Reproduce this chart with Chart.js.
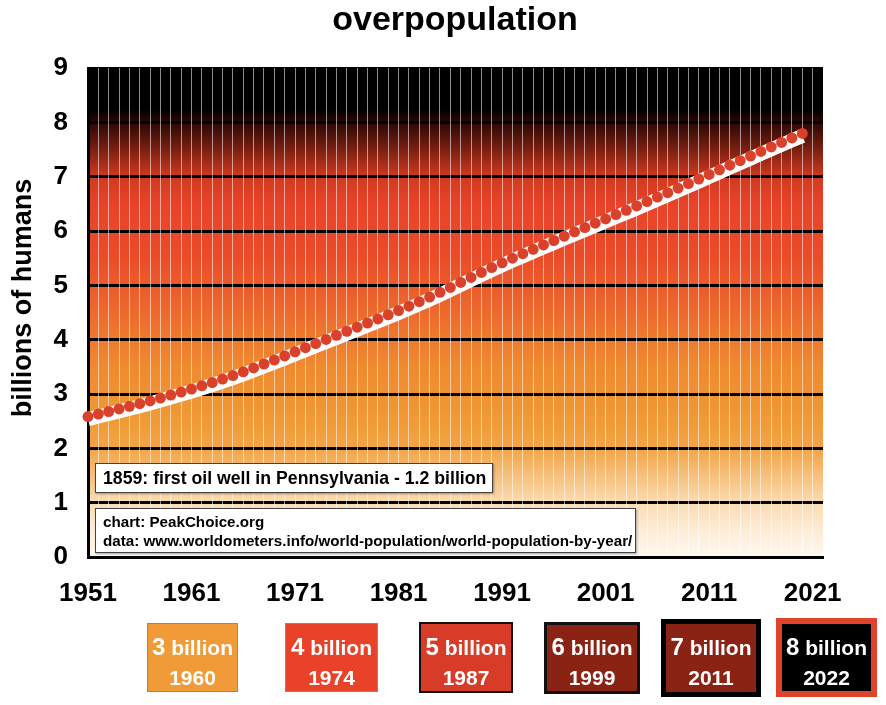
<!DOCTYPE html>
<html>
<head>
<meta charset="utf-8">
<title>overpopulation</title>
<script src="https://cdn.jsdelivr.net/npm/chart.js@4.4.0/dist/chart.umd.min.js"></script>
<style>
  html, body { margin: 0; padding: 0; background: #fff; overflow: hidden; }
  body { font-family: "Liberation Sans", Arial, Helvetica, sans-serif; font-weight: bold; }
  #wrap { position: relative; width: 886px; height: 705px; }
  #chart { position: absolute; left: 0; top: 0; }
  .note { position: absolute; box-sizing: border-box; background: #fff; border: 1px solid #444;
          box-shadow: 1px 1px 2px rgba(0,0,0,0.35); color: #000; white-space: nowrap; padding-left: 7px; }
  .milestone { position: absolute; box-sizing: border-box; color: #fff; text-align: center; border-style: solid; }
  .milestone .txt { position: absolute; left: 0; right: 0; line-height: 30px; font-size: 21px; white-space: nowrap; }
  .milestone .big { font-size: 24px; }
</style>
</head>
<body>
<div id="wrap">
  <canvas id="chart" width="886" height="705"></canvas>
  <div class="note" style="left:95px; top:463px; width:398px; height:30px; font-size:17.7px; line-height:28px;">1859: first oil well in Pennsylvania - 1.2 billion</div>
  <div class="note" style="left:95px; top:508px; width:541px; height:45px; font-size:15.2px; line-height:19px; padding-top:3px;">chart: PeakChoice.org<br>data: www.worldometers.info/world-population/world-population-by-year/</div>
</div>
<script>
// world population, billions (worldometers)
const years = [1951, 1952, 1953, 1954, 1955, 1956, 1957, 1958, 1959, 1960,
               1961, 1962, 1963, 1964, 1965, 1966, 1967, 1968, 1969, 1970,
               1971, 1972, 1973, 1974, 1975, 1976, 1977, 1978, 1979, 1980,
               1981, 1982, 1983, 1984, 1985, 1986, 1987, 1988, 1989, 1990,
               1991, 1992, 1993, 1994, 1995, 1996, 1997, 1998, 1999, 2000,
               2001, 2002, 2003, 2004, 2005, 2006, 2007, 2008, 2009, 2010,
               2011, 2012, 2013, 2014, 2015, 2016, 2017, 2018, 2019, 2020];
const population = [2.584, 2.631, 2.678, 2.725, 2.773, 2.822, 2.873, 2.926, 2.980, 3.035,
                    3.092, 3.150, 3.211, 3.274, 3.340, 3.408, 3.479, 3.552, 3.626, 3.700,
                    3.776, 3.852, 3.928, 4.004, 4.079, 4.155, 4.230, 4.305, 4.381, 4.458,
                    4.537, 4.617, 4.700, 4.784, 4.871, 4.961, 5.053, 5.145, 5.237, 5.327,
                    5.414, 5.499, 5.582, 5.663, 5.744, 5.825, 5.905, 5.985, 6.064, 6.143,
                    6.223, 6.302, 6.381, 6.461, 6.542, 6.624, 6.706, 6.789, 6.873, 6.957,
                    7.041, 7.126, 7.211, 7.295, 7.380, 7.464, 7.548, 7.631, 7.713, 7.795];
const xTickLabels = ['1951', '1961', '1971', '1981', '1991', '2001', '2011', '2021'];
const yTickLabels = ['0', '1', '2', '3', '4', '5', '6', '7', '8', '9'];
const milestoneBillions = ['3', '4', '5', '6', '7', '8'];
const milestoneYears = ['1960', '1974', '1987', '1999', '2011', '2022'];

const FONT = '"Liberation Sans", Arial, Helvetica, sans-serif';
const X_MIN = 1951, X_MAX = 2022;

// look of the milestone boxes under the chart
const milestoneStyles = [
    { left: 147, top: 623, w: 91,  h: 69, bw: 1, bc: '#8a8a8a', bg: '#f09b38' },
    { left: 285, top: 623, w: 93,  h: 69, bw: 1, bc: '#8a8a8a', bg: '#e8432a' },
    { left: 419, top: 622, w: 94,  h: 71, bw: 2, bc: '#111',    bg: '#d63c27' },
    { left: 544, top: 622, w: 96,  h: 72, bw: 3, bc: '#111',    bg: '#8b2315' },
    { left: 661, top: 619, w: 100, h: 78, bw: 5, bc: '#000',    bg: '#8b2315' },
    { left: 776, top: 618, w: 101, h: 79, bw: 6, bc: '#e0432c', bg: '#000' }
];

// background colour stops, keyed by y value
const gradientStops = [
    [9.0, '#000000'], [8.25, '#000000'], [8.0, '#2a0704'], [7.6, '#6a1a0e'],
    [7.0, '#d0391f'], [6.5, '#e8432a'], [5.5, '#ea4c29'], [4.5, '#ed6a2d'],
    [3.5, '#ef8a30'], [2.5, '#f09a36'], [2.0, '#f2a447'], [1.5, '#f6c07c'],
    [1.0, '#fbdcb2'], [0.5, '#fdecd6'], [0.0, '#fff8f0']
];

const wrap = document.getElementById('wrap');
milestoneStyles.forEach((s, i) => {
    const box = document.createElement('div');
    box.className = 'milestone';
    box.style.cssText = `left:${s.left}px; top:${s.top}px; width:${s.w}px; height:${s.h}px; ` +
        `border-width:${s.bw}px; border-color:${s.bc}; background:${s.bg};`;
    const txt = document.createElement('div');
    txt.className = 'txt';
    txt.style.top = (632 - s.top - s.bw) + 'px';
    txt.innerHTML = `<span class="big">${milestoneBillions[i]}</span> billion<br>${milestoneYears[i]}`;
    box.appendChild(txt);
    wrap.appendChild(box);
});

const points = years.map((yr, i) => ({ x: yr, y: population[i] }));

const backdrop = {
    id: 'backdrop',
    afterLayout(chart) {
        // centre the title over the plot rather than the whole canvas
        if (chart.titleBlock) {
            chart.titleBlock.left = 24;
            chart.titleBlock.right = 886;
        }
    },
    beforeDraw(chart) {
        const { ctx, chartArea: a, scales: { y } } = chart;
        const top = y.getPixelForValue(9), bottom = y.getPixelForValue(0);
        const g = ctx.createLinearGradient(0, top, 0, bottom);
        gradientStops.forEach(([v, c]) => g.addColorStop((9 - v) / 9, c));
        ctx.save();
        ctx.fillStyle = g;
        ctx.fillRect(a.left, a.top, a.right - a.left, a.bottom - a.top);
        ctx.restore();
    },
    beforeDatasetDraw(chart, args) {
        // white band sits a little below the dots
        if (args.index === 1) {
            chart.ctx.save();
            chart.ctx.translate(0, 2.5);
        }
    },
    afterDatasetDraw(chart, args) {
        if (args.index === 1) chart.ctx.restore();
    },
    afterDraw(chart) {
        const { ctx, chartArea: a } = chart;
        ctx.save();
        // no frame on the right-hand side of the plot
        ctx.fillStyle = '#fff';
        ctx.fillRect(a.right, a.top - 3, 12, a.bottom - a.top + 1);
        ctx.translate(24, 298);
        ctx.rotate(-Math.PI / 2);
        ctx.font = 'bold 27px ' + FONT;
        ctx.fillStyle = '#000';
        ctx.textAlign = 'center';
        ctx.textBaseline = 'middle';
        ctx.fillText('billions of humans', 0, 0);
        ctx.restore();
    }
};

const gridYears = [];
for (let v = X_MIN; v <= X_MAX; v++) gridYears.push(v);

new Chart(document.getElementById('chart'), {
    type: 'line',
    data: {
        datasets: [{
            label: 'population',
            data: points,
            showLine: false,
            pointRadius: 5.5,
            pointBackgroundColor: '#d9412b',
            pointBorderWidth: 0,
            clip: false
        }, {
            label: 'trend',
            data: points,
            borderColor: '#ffffff',
            borderWidth: 14,
            pointRadius: 0,
            fill: false,
            tension: 0,
            clip: false
        }]
    },
    options: {
        responsive: false,
        animation: false,
        events: [],
        layout: { padding: { left: 0, right: 63, top: 0, bottom: 0 } },
        plugins: {
            legend: { display: false },
            tooltip: { enabled: false },
            title: {
                display: true,
                text: 'overpopulation',
                color: '#000',
                font: { family: FONT, size: 34, weight: 'bold', lineHeight: 1 },
                padding: { top: 4, bottom: 30 }
            }
        },
        scales: {
            x: {
                type: 'linear',
                min: X_MIN,
                max: X_MAX,
                afterBuildTicks: scale => { scale.ticks = gridYears.map(v => ({ value: v })); },
                afterFit: scale => { scale.height = 148; },
                grid: {
                    color: c => (c.tick && (c.tick.value <= X_MIN || c.tick.value >= X_MAX))
                        ? 'rgba(0,0,0,0)' : 'rgba(255,255,255,0.55)',
                    lineWidth: 1,
                    drawTicks: false,
                    z: -1
                },
                border: { display: true, color: '#000', width: 3, z: -1 },
                ticks: {
                    autoSkip: false,
                    maxRotation: 0,
                    padding: 21,
                    color: '#000',
                    font: { family: FONT, size: 26, weight: 'bold' },
                    callback: v => xTickLabels.includes(String(v)) ? String(v) : ''
                }
            },
            y: {
                min: 0,
                max: 9,
                afterFit: scale => { scale.width = 88; },
                grid: { color: '#000', lineWidth: 3, drawTicks: false, z: -2 },
                border: { display: true, color: '#000', width: 3, z: -2 },
                ticks: {
                    stepSize: 1,
                    padding: 20,
                    color: '#000',
                    font: { family: FONT, size: 26, weight: 'bold' },
                    callback: v => yTickLabels[v] ?? ''
                }
            }
        }
    },
    plugins: [backdrop]
});
</script>
</body>
</html>
